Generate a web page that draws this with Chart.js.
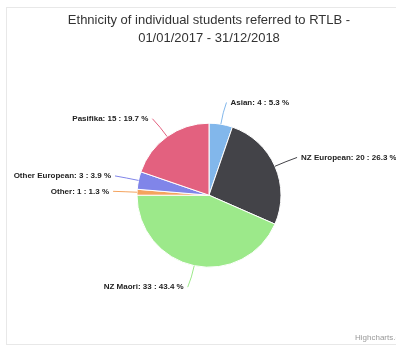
<!DOCTYPE html>
<html>
<head>
<meta charset="utf-8">
<script src="https://cdn.jsdelivr.net/npm/chart.js@4.4.1/dist/chart.umd.min.js"></script>
<style>
  html, body { margin: 0; padding: 0; background: #fff; overflow: hidden; }
  #quadro {
    position: absolute; left: 6px; top: 7px; width: 500px; height: 336px;
    border: 1px solid #e8e8e8; border-right: none;
  }
  #grafico { position: absolute; left: 0; top: 0; }
</style>
</head>
<body>
<div id="quadro"></div>
<canvas id="grafico" width="396" height="350"></canvas>
<script>
// ==========================================================
// DADOS
// ==========================================================
const tituloLinhas = ['Ethnicity of individual students referred to RTLB -', '01/01/2017 - 31/12/2018'];
const etnias = ['Asian', 'NZ European', 'NZ Maori', 'Other', 'Other European', 'Pasifika'];
const alunos = [4, 20, 33, 1, 3, 15];
const cores = ['#82b7eb', '#434348', '#9ce98a', '#f4a35e', '#8085e9', '#e3617f'];

const totalAlunos = alunos.reduce((a, b) => a + b, 0);

// ==========================================================
// RÓTULOS COM LINHA DE LIGAÇÃO (estilo highcharts)
// ==========================================================
const rotulosPizza = {
  id: 'rotulosPizza',
  afterDatasetsDraw(chart) {
    const ctx = chart.ctx;
    const meta = chart.getDatasetMeta(0);
    ctx.save();
    ctx.font = 'bold 8px "Liberation Sans", Arial, sans-serif';
    ctx.textBaseline = 'middle';

    meta.data.forEach((arco, i) => {
      const { x, y, startAngle, endAngle, outerRadius } = arco.getProps(['x', 'y', 'startAngle', 'endAngle', 'outerRadius'], true);
      const meio = (startAngle + endAngle) / 2;
      const dx = Math.cos(meio);
      const dy = Math.sin(meio);

      const borda = { x: x + dx * outerRadius, y: y + dy * outerRadius };
      const quebra = { x: x + dx * (outerRadius + 12), y: y + dy * (outerRadius + 12) };
      const fim = { x: x + dx * (outerRadius + 22), y: y + dy * (outerRadius + 22) };
      const direita = dx >= 0;

      ctx.strokeStyle = cores[i];
      ctx.lineWidth = 1;
      ctx.beginPath();
      ctx.moveTo(borda.x, borda.y);
      ctx.quadraticCurveTo(quebra.x, quebra.y, fim.x + (direita ? 2 : -2), fim.y);
      ctx.stroke();

      const pct = (alunos[i] / totalAlunos * 100).toFixed(1);
      const texto = `${etnias[i]}: ${alunos[i]} : ${pct} %`;
      ctx.textAlign = direita ? 'left' : 'right';
      const tx = fim.x + (direita ? 6 : -6);
      ctx.lineWidth = 2;
      ctx.strokeStyle = '#ffffff';
      ctx.strokeText(texto, tx, fim.y);
      ctx.fillStyle = '#222222';
      ctx.fillText(texto, tx, fim.y);
    });

    // crédito no canto inferior
    ctx.font = '8px "Liberation Sans", Arial, sans-serif';
    ctx.fillStyle = '#999999';
    ctx.textAlign = 'left';
    ctx.fillText('Highcharts.com', 355, 338);
    ctx.restore();
  }
};

// ==========================================================
// INICIALIZAÇÃO
// ==========================================================
const ctx = document.getElementById('grafico');
new Chart(ctx, {
  type: 'pie',
  data: {
    labels: etnias,
    datasets: [{
      data: alunos,
      backgroundColor: cores,
      borderColor: '#ffffff',
      borderWidth: 1,
      radius: 72
    }]
  },
  options: {
    responsive: false,
    animation: false,
    layout: { padding: { left: 22, right: 0, top: 0, bottom: 17 } },
    plugins: {
      legend: { display: false },
      tooltip: { enabled: false },
      title: {
        display: true,
        text: tituloLinhas,
        color: '#333333',
        font: { family: '"Liberation Sans", Arial, sans-serif', size: 13, weight: 'normal', lineHeight: 1.4 },
        padding: { top: 11, bottom: 10 }
      }
    }
  },
  plugins: [rotulosPizza]
});
</script>
</body>
</html>
